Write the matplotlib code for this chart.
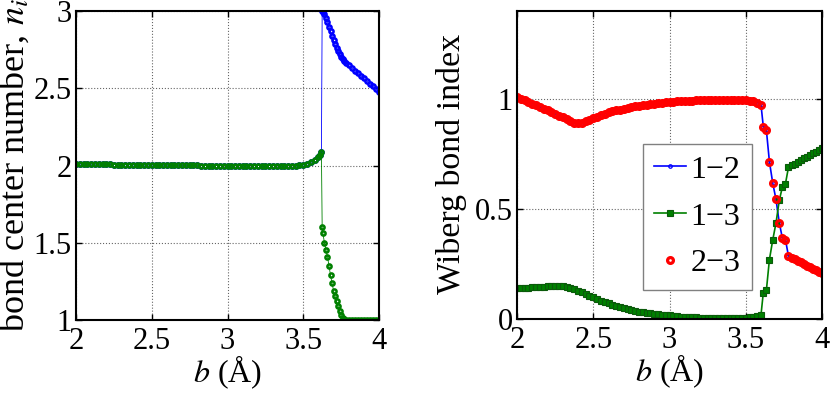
import numpy as np
import matplotlib
matplotlib.use('Agg')
import matplotlib.pyplot as plt

plt.rcParams['font.family'] = ['Liberation Serif', 'DejaVu Serif']
plt.rcParams['mathtext.fontset'] = 'stix'

# ---- left panel: bond center number vs b ----
b_flat = np.round(np.arange(2.0, 3.6001, 0.025), 3)          # 65 points
b_jump_pre = [3.61, 3.62]
b_after = [3.625, 3.63, 3.64, 3.65, 3.66, 3.67, 3.68, 3.69, 3.70, 3.71,
           3.72, 3.73, 3.74, 3.75, 3.76, 3.77, 3.78, 3.80, 3.82, 3.84,
           3.86, 3.88, 3.90, 3.92, 3.94, 3.96, 3.98, 4.00]

n_flat = [2.010, 2.010, 2.010, 2.010, 2.009, 2.009, 2.008, 2.008, 2.007, 2.007,
          2.006, 2.006, 2.005, 2.005, 2.005, 2.004, 2.004, 2.004, 2.003, 2.003,
          2.003, 2.003, 2.002, 2.002, 2.002, 2.002, 2.002, 2.001, 2.001, 2.001,
          2.001, 2.001, 2.001, 2.000, 2.000, 2.000, 2.000, 2.000, 2.000, 2.000,
          2.000, 2.000, 2.000, 2.000, 2.000, 2.000, 2.000, 2.000, 2.000, 2.000,
          2.000, 2.000, 2.000, 2.000, 2.000, 2.000, 2.000, 2.000, 2.000, 2.001,
          2.003, 2.010, 2.020, 2.036, 2.055]
n_pre = [2.068, 2.085]
n1_after = [3.000, 2.995, 2.980, 2.957, 2.930, 2.900, 2.870, 2.840, 2.810, 2.785,
            2.760, 2.740, 2.720, 2.705, 2.690, 2.677, 2.665, 2.648, 2.632, 2.615,
            2.598, 2.581, 2.564, 2.547, 2.530, 2.513, 2.496, 2.478]
n2_after = [1.600, 1.560, 1.500, 1.455, 1.410, 1.350, 1.290, 1.240, 1.190, 1.155,
            1.120, 1.090, 1.060, 1.035, 1.015, 1.005, 1.000, 1.000, 1.000, 1.000,
            1.000, 1.000, 1.000, 1.000, 1.000, 1.000, 1.000, 1.000]

# ---- right panel: Wiberg bond index vs b ----
w_trans = [3.615, 3.635, 3.655, 3.677, 3.698, 3.72, 3.74, 3.76, 3.78]
w_after = [3.80, 3.82, 3.84, 3.86, 3.88, 3.90, 3.92, 3.94, 3.96, 3.98, 4.00]

wbi23_flat = [1.010, 1.002, 0.994, 0.986, 0.979, 0.971, 0.963, 0.955, 0.948, 0.940,
              0.932, 0.924, 0.916, 0.908, 0.900, 0.893, 0.890, 0.892, 0.898, 0.905,
              0.912, 0.920, 0.927, 0.933, 0.939, 0.944, 0.948, 0.952, 0.956, 0.960,
              0.963, 0.966, 0.969, 0.972, 0.974, 0.977, 0.979, 0.981, 0.983, 0.985,
              0.986, 0.988, 0.989, 0.990, 0.991, 0.992, 0.993, 0.994, 0.994, 0.995,
              0.995, 0.996, 0.996, 0.996, 0.996, 0.996, 0.996, 0.996, 0.995, 0.995,
              0.994, 0.993, 0.990, 0.984, 0.972]
wbi23_trans = [0.874, 0.859, 0.715, 0.617, 0.544, 0.436, 0.368, 0.361, 0.286]
wbi23_after = [0.279, 0.272, 0.265, 0.258, 0.251, 0.243, 0.236, 0.229, 0.222, 0.215, 0.208]

wbi13_flat = [0.140, 0.141, 0.142, 0.143, 0.144, 0.145, 0.146, 0.147, 0.148, 0.149,
              0.150, 0.150, 0.149, 0.146, 0.141, 0.135, 0.128, 0.121, 0.113, 0.105,
              0.098, 0.091, 0.084, 0.077, 0.071, 0.065, 0.060, 0.055, 0.050, 0.046,
              0.042, 0.038, 0.034, 0.031, 0.028, 0.025, 0.023, 0.021, 0.019, 0.017,
              0.016, 0.014, 0.013, 0.011, 0.010, 0.009, 0.008, 0.007, 0.006, 0.005,
              0.005, 0.004, 0.004, 0.004, 0.004, 0.004, 0.004, 0.004, 0.005, 0.005,
              0.006, 0.007, 0.009, 0.012, 0.020]
wbi13_trans = [0.120, 0.130, 0.270, 0.360, 0.436, 0.540, 0.600, 0.614, 0.690]
wbi13_after = [0.698, 0.706, 0.714, 0.722, 0.730, 0.737, 0.745, 0.753, 0.761, 0.768, 0.776]

# 1-2 and 2-3 are symmetric bonds, same values
wbi12_flat, wbi12_trans, wbi12_after = wbi23_flat, wbi23_trans, wbi23_after

b_left = np.concatenate([b_flat, b_jump_pre, b_after])
n1 = np.concatenate([n_flat, n_pre, n1_after])
n2 = np.concatenate([n_flat, n_pre, n2_after])
b_right = np.concatenate([b_flat, w_trans, w_after])
wbi12 = np.concatenate([wbi12_flat, wbi12_trans, wbi12_after])
wbi13 = np.concatenate([wbi13_flat, wbi13_trans, wbi13_after])
wbi23 = np.concatenate([wbi23_flat, wbi23_trans, wbi23_after])

fig = plt.figure(figsize=(8.3, 3.93), dpi=100)
ax1 = fig.add_axes([0.0916, 0.1858, 0.365, 0.786])
ax2 = fig.add_axes([0.6229, 0.1883, 0.3675, 0.7837])

fs = 22
fs_lab = 24.5

ax1.plot(b_left, n1, color='blue', lw=0.6, marker='o', ms=3, mfc='none', mew=1.8)
ax1.plot(b_left, n2, color='green', lw=0.6, marker='o', ms=3, mfc='none', mew=1.8)
ax1.set_xlim(2, 4)
ax1.set_ylim(1, 3)
ax1.set_yticks([1, 1.5, 2, 2.5, 3])
ax1.set_yticklabels(['1', '1.5', '2', '2.5', '3'])
# long label, runs off the top of the figure like in the original
ax1.set_ylabel('bond center number, $n_i$', fontsize=26, loc='bottom')
ax1.yaxis.set_label_coords(-0.146, -0.04)

ax2.plot(b_right, wbi12, color='blue', lw=1.2, marker='o', ms=2.5, mfc='none', mew=0.9,
         label='1\u22122')
ax2.plot(b_right, wbi13, color='green', lw=1.2, marker='s', ms=4, mfc='green',
         mec='#0a5a0a', mew=0.8, label='1\u22123')
ax2.plot(b_right, wbi23, color='red', lw=0, marker='o', ms=4.2, mfc='none', mew=2.3,
         label='2\u22123')
ax2.set_xlim(2, 4)
ax2.set_ylim(0, 1.4)
ax2.set_yticks([0, 0.5, 1])
ax2.set_yticklabels(['0', '0.5', '1'])
ax2.set_ylabel('Wiberg bond index', fontsize=fs_lab)
ax2.yaxis.set_label_coords(-0.165, 0.505)
leg = ax2.legend(loc='upper left', bbox_to_anchor=(0.412, 0.568), borderaxespad=0,
                 fontsize=23, fancybox=False, edgecolor='gray', framealpha=1,
                 handlelength=1.0, handletextpad=0.15, labelspacing=0.55, borderpad=0.35)
leg.get_frame().set_linewidth(1.0)

for ax in (ax1, ax2):
    ax.set_xticks([2, 2.5, 3, 3.5, 4])
    ax.set_xticklabels(['2', '2.5', '3', '3.5', '4'])
    ax.set_xlabel('$b$ (\u00c5)', fontsize=23, labelpad=-1.5)
    ax.grid(True, linestyle=':', color='black', lw=0.8, alpha=0.6)
    ax.tick_params(direction='in', top=True, right=True, length=4, width=1,
                   labelsize=fs, pad=3)
    ax.tick_params(axis='x', pad=5)
    for s in ax.spines.values():
        s.set_linewidth(1.5)

fig.savefig('out.png', dpi=100)
